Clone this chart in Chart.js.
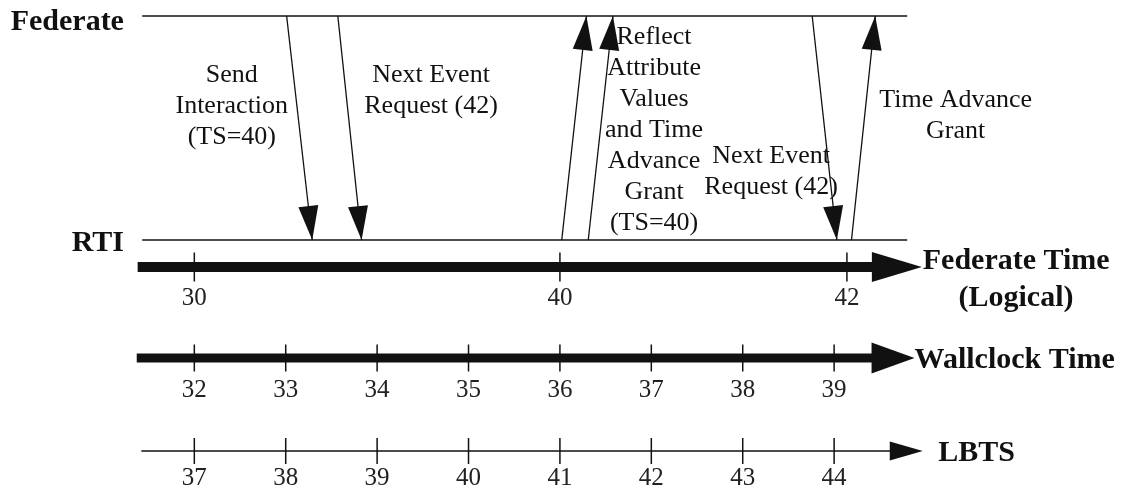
<!DOCTYPE html>
<html>
<head>
<meta charset="utf-8">
<script src="https://cdn.jsdelivr.net/npm/chart.js@4.4.1/dist/chart.umd.min.js"></script>
<style>
  html, body { margin: 0; padding: 0; background: #fff; }
  #wrap { width: 1133px; height: 492px; position: relative; }
</style>
</head>
<body>
<div id="wrap"><canvas id="myChart"></canvas></div>
<script>
  // the x axis is wallclock time; everything hangs off it
  const wallclockTicks = [32, 33, 34, 35, 36, 37, 38, 39];
  const lbtsTicks = [37, 38, 39, 40, 41, 42, 43, 44];
  const federateTimeTicks = [30, 40, 42];
  const federateTimeAt = [32, 36, 39.14];   // wallclock instant where each logical time is reached

  // messages between federate and RTI (wallclock send / receive)
  const messageSent = [33.01, 33.57, 36.02, 36.31, 38.76, 39.19];
  const messageRecv = [33.29, 33.83, 36.29, 36.58, 39.03, 39.45];
  const messageDown = [true, true, false, false, true, false];   // true = federate -> RTI

  const messageText = [
    ['Send', 'Interaction', '(TS=40)'],
    ['Next Event', 'Request (42)'],
    ['Reflect', 'Attribute', 'Values', 'and Time', 'Advance', 'Grant', '(TS=40)'],
    ['Next Event', 'Request (42)'],
    ['Time Advance', 'Grant']
  ];

  // layout (x in wallclock units, y in canvas rows)
  const rowFed = 16, rowRti = 240, rowFt = 267, rowWc = 358, rowLb = 451;
  const textAt = [[32.41, 75], [34.59, 75], [37.03, 37], [38.31, 156], [40.33, 100]];
  const serif = '"Liberation Serif", "Times New Roman", serif';
  const ink = '#111';

  function seg(x0, x1, y, w) {
    return {
      data: [{x: x0, y: y}, {x: x1, y: y}],
      showLine: true, borderColor: ink, borderWidth: w, borderCapStyle: 'butt',
      pointRadius: 0
    };
  }
  function ticks(xs, y, r) {
    return {
      data: xs.map(v => ({x: v, y: y})),
      showLine: false, pointStyle: 'line', pointRotation: 90, pointRadius: r,
      pointBorderColor: ink, pointBorderWidth: 1.5, pointBackgroundColor: ink
    };
  }

  const datasets = [
    seg(31.43, 39.80, rowFed, 1.5),
    seg(31.43, 39.80, rowRti, 1.5),
    seg(31.38, 39.42, rowFt, 10),
    seg(31.37, 39.42, rowWc, 9),
    seg(31.42, 39.62, rowLb, 1.5),
    ticks(federateTimeAt, rowFt, 14.5),
    ticks(wallclockTicks, rowWc, 13.5),
    ticks(wallclockTicks, rowLb, 13)
  ];
  messageSent.forEach((s, i) => {
    const from = messageDown[i] ? rowFed : rowRti;
    const to = messageDown[i] ? rowRti : rowFed;
    datasets.push({
      data: [{x: s, y: from}, {x: messageRecv[i], y: to}],
      showLine: true, borderColor: ink, borderWidth: 1.3, pointRadius: 0
    });
  });

  function head(ctx, x0, y0, x1, y1, len, half) {
    const a = Math.atan2(y1 - y0, x1 - x0);
    const bx = x1 - Math.cos(a) * len, by = y1 - Math.sin(a) * len;
    ctx.beginPath();
    ctx.moveTo(x1, y1);
    ctx.lineTo(bx + Math.sin(a) * half, by - Math.cos(a) * half);
    ctx.lineTo(bx - Math.sin(a) * half, by + Math.cos(a) * half);
    ctx.closePath();
    ctx.fill();
  }

  const decorations = {
    id: 'decorations',
    afterDatasetsDraw(chart) {
      const ctx = chart.ctx;
      const sx = chart.scales.x, sy = chart.scales.y;
      const X = v => sx.getPixelForValue(v), Y = v => sy.getPixelForValue(v);
      ctx.save();
      ctx.fillStyle = ink;

      // arrowheads on messages
      messageSent.forEach((s, i) => {
        const from = messageDown[i] ? rowFed : rowRti;
        const to = messageDown[i] ? rowRti : rowFed;
        head(ctx, X(s), Y(from), X(messageRecv[i]), Y(to), 34, 10);
      });
      // axis arrowheads
      head(ctx, X(39.4), Y(rowFt), X(39.96), Y(rowFt), 50, 15);
      head(ctx, X(39.4), Y(rowWc), X(39.88), Y(rowWc), 43, 15.5);
      head(ctx, X(39.6), Y(rowLb), X(39.97), Y(rowLb), 33, 9.5);

      // tick labels
      ctx.font = '25px ' + serif;
      ctx.fillStyle = '#222';
      ctx.textAlign = 'center';
      ctx.textBaseline = 'middle';
      federateTimeTicks.forEach((t, i) => ctx.fillText(String(t), X(federateTimeAt[i]), Y(298)));
      wallclockTicks.forEach(t => ctx.fillText(String(t), X(t), Y(390)));
      lbtsTicks.forEach((t, i) => ctx.fillText(String(t), X(wallclockTicks[i]), Y(478)));

      // message captions
      ctx.fillStyle = ink;
      ctx.font = '26px ' + serif;
      messageText.forEach((lines, i) => {
        lines.forEach((ln, j) => ctx.fillText(ln, X(textAt[i][0]), Y(textAt[i][1] + j * 31)));
      });

      // bold titles
      ctx.font = 'bold 30px ' + serif;
      ctx.textAlign = 'right';
      ctx.fillText('Federate', X(31.23), Y(22));
      ctx.fillText('RTI', X(31.23), Y(243));
      ctx.textAlign = 'left';
      ctx.fillText('Federate Time', X(39.97), Y(261));
      ctx.fillText('Wallclock Time', X(39.88), Y(360));
      ctx.fillText('LBTS', X(40.14), Y(453));
      ctx.textAlign = 'center';
      ctx.fillText('(Logical)', X(40.99), Y(298));
      ctx.restore();
    }
  };

  const ctx = document.getElementById('myChart');

  new Chart(ctx, {
    type: 'scatter',
    data: { datasets: datasets },
    options: {
      responsive: true,
      maintainAspectRatio: false,
      animation: false,
      layout: { padding: 0, autoPadding: false },
      plugins: { legend: { display: false }, tooltip: { enabled: false } },
      scales: {
        x: { type: 'linear', min: 29.874, max: 42.27, display: false },
        y: { type: 'linear', min: 0, max: 492, reverse: true, display: false }
      }
    },
    plugins: [decorations]
  });
</script>
</body>
</html>
